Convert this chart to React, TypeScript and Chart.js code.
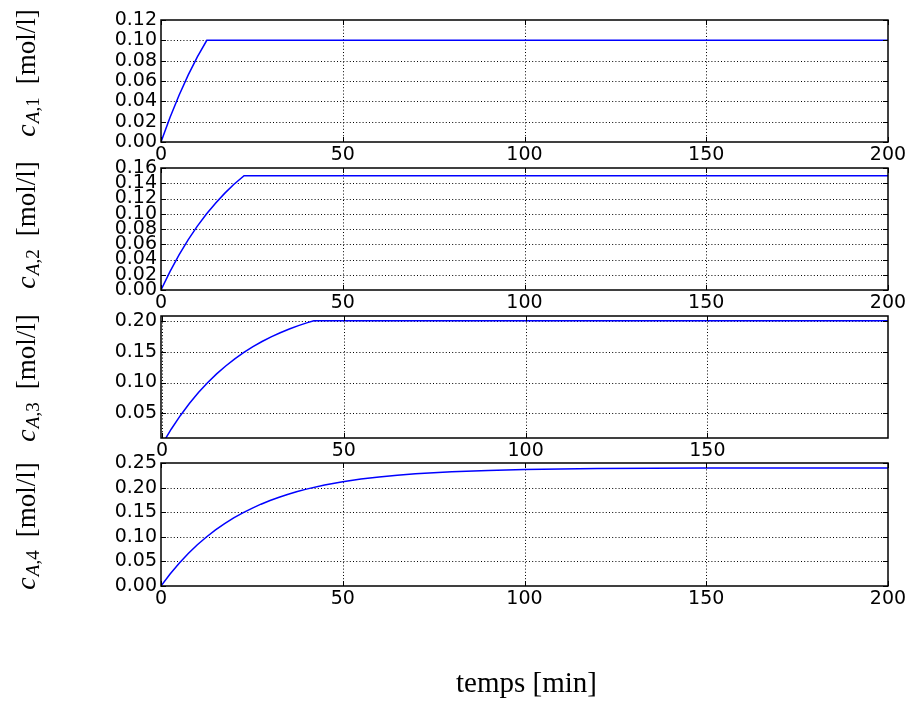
import React, { useEffect, useRef } from 'react';
import { Chart, registerables } from 'chart.js';

Chart.register(...registerables);

// ---------------- data ----------------
const X_TICKS = [0, 50, 100, 150, 200];

const T1 = [0, 2.5, 5, 7.5, 10, 12.6, 200];
const C1 = [0, 0.0244, 0.0463, 0.066, 0.0838, 0.10, 0.10];

const T2 = [0, 2.5, 5, 7.5, 10, 12.5, 15, 17.5, 20, 22.85, 200];
const C2 = [0, 0.0244, 0.0463, 0.066, 0.0838, 0.0996, 0.1139, 0.1267, 0.1383, 0.15, 0.15];

const T3 = [0, 2.5, 5, 7.5, 10, 12.5, 15, 17.5, 20, 22.5, 25, 27.5, 30, 32.5, 35, 37.5, 40, 41.75, 200];
const C3 = [0, 0.0244, 0.0463, 0.066, 0.0838, 0.0996, 0.1139, 0.1267, 0.1383, 0.1486, 0.1579, 0.1663, 0.1738, 0.1805, 0.1866, 0.192, 0.1969, 0.2, 0.2];

const T4 = [0, 2.5, 5, 7.5, 10, 12.5, 15, 17.5, 20, 22.5, 25, 27.5, 30, 32.5, 35, 37.5, 40, 45, 50, 55, 60, 65, 70, 75, 80, 90, 100, 120, 150, 200];
const C4 = [0, 0.0244, 0.0463, 0.066, 0.0838, 0.0996, 0.1139, 0.1267, 0.1383, 0.1486, 0.1579, 0.1663, 0.1738, 0.1805, 0.1866, 0.192, 0.1969, 0.2052, 0.2119, 0.2173, 0.2217, 0.2253, 0.2281, 0.2304, 0.2323, 0.235, 0.2367, 0.2386, 0.2396, 0.24];

const Y_TICKS_1 = [0, 0.02, 0.04, 0.06, 0.08, 0.10, 0.12];
const Y_TICKS_2 = [0, 0.02, 0.04, 0.06, 0.08, 0.10, 0.12, 0.14, 0.16];
const Y_TICKS_3 = [0.05, 0.10, 0.15, 0.20];
const Y_TICKS_4 = [0, 0.05, 0.10, 0.15, 0.20, 0.25];

const Y_SUBS = ['1', '2', '3', '4'];
const Y_UNIT = '[mol/l]';
const X_LABEL = 'temps [min]';

// ---------------- layout ----------------
const W = 911;
const H = 704;
const PLOT_LEFT = 161;
const PLOT_RIGHT = 888;

interface Panel {
  t: number[];
  c: number[];
  yTicks: number[];
  yMin: number;
  yMax: number;
  xMin: number;
  xMax: number;
  top: number;
  bottom: number;
  sub: string;
  labelCy: number;
  xLabel: boolean;
}

const PANELS: Panel[] = [
  { t: T1, c: C1, yTicks: Y_TICKS_1, yMin: 0, yMax: 0.12, xMin: 0, xMax: 200, top: 20, bottom: 142, sub: Y_SUBS[0], labelCy: 73, xLabel: false },
  { t: T2, c: C2, yTicks: Y_TICKS_2, yMin: 0, yMax: 0.16, xMin: 0, xMax: 200, top: 168, bottom: 290, sub: Y_SUBS[1], labelCy: 225, xLabel: false },
  { t: T3, c: C3, yTicks: Y_TICKS_3, yMin: 0.0102, yMax: 0.2076, xMin: -0.3, xMax: 199.7, top: 316, bottom: 438, sub: Y_SUBS[2], labelCy: 378, xLabel: false },
  { t: T4, c: C4, yTicks: Y_TICKS_4, yMin: 0, yMax: 0.25, xMin: 0, xMax: 200, top: 463, bottom: 586, sub: Y_SUBS[3], labelCy: 526, xLabel: true },
];

const SERIF = '"Liberation Serif", "DejaVu Serif", serif';

function drawYLabel(ctx: CanvasRenderingContext2D, sub: string, cy: number) {
  const fMain = `italic 28px ${SERIF}`;
  const fSubIt = `italic 19px ${SERIF}`;
  const fSubRm = `19px ${SERIF}`;
  const fRm = `27px ${SERIF}`;
  ctx.save();
  ctx.fillStyle = '#000';
  ctx.textBaseline = 'alphabetic';
  ctx.textAlign = 'left';
  ctx.font = fMain;
  const wc = ctx.measureText('c').width;
  ctx.font = fSubIt;
  const wA = ctx.measureText('A').width;
  ctx.font = fSubRm;
  const wRest = ctx.measureText(',' + sub).width;
  ctx.font = fRm;
  const wUnit = ctx.measureText(Y_UNIT).width;
  const gap = 13;
  const total = wc + 1 + wA + wRest + gap + wUnit;
  ctx.translate(35, cy);
  ctx.rotate(-Math.PI / 2);
  let x = -total / 2;
  ctx.font = fMain;
  ctx.fillText('c', x, 0);
  x += wc + 1;
  ctx.font = fSubIt;
  ctx.fillText('A', x, 4);
  x += wA;
  ctx.font = fSubRm;
  ctx.fillText(',' + sub, x, 4);
  x += wRest + gap;
  ctx.font = fRm;
  ctx.fillText(Y_UNIT, x, 0);
  ctx.restore();
}

const mplPlugin = {
  id: 'mpl',
  beforeDatasetsDraw(chart: any) {
    const { ctx, chartArea: a, scales } = chart;
    ctx.save();
    ctx.strokeStyle = '#000';
    ctx.lineWidth = 1;
    ctx.setLineDash([1, 2.2]);
    for (const tk of scales.x.ticks) {
      const px = Math.round(scales.x.getPixelForValue(tk.value)) + 0.5;
      if (px < a.left + 1 || px > a.right - 1) continue;
      ctx.beginPath();
      ctx.moveTo(px, a.top);
      ctx.lineTo(px, a.bottom);
      ctx.stroke();
    }
    for (const tk of scales.y.ticks) {
      const py = Math.round(scales.y.getPixelForValue(tk.value)) + 0.5;
      if (py < a.top + 1 || py > a.bottom - 1) continue;
      ctx.beginPath();
      ctx.moveTo(a.left, py);
      ctx.lineTo(a.right, py);
      ctx.stroke();
    }
    ctx.restore();
  },
  afterDatasetsDraw(chart: any) {
    const { ctx, chartArea: a, scales } = chart;
    ctx.save();
    ctx.strokeStyle = '#000';
    ctx.setLineDash([]);
    ctx.lineWidth = 1.5;
    ctx.strokeRect(a.left, a.top, a.right - a.left, a.bottom - a.top);
    ctx.lineWidth = 1;
    const L = 5;
    for (const tk of scales.x.ticks) {
      const px = Math.round(scales.x.getPixelForValue(tk.value)) + 0.5;
      ctx.beginPath();
      ctx.moveTo(px, a.bottom);
      ctx.lineTo(px, a.bottom - L);
      ctx.moveTo(px, a.top);
      ctx.lineTo(px, a.top + L);
      ctx.stroke();
    }
    for (const tk of scales.y.ticks) {
      const py = Math.round(scales.y.getPixelForValue(tk.value)) + 0.5;
      ctx.beginPath();
      ctx.moveTo(a.left, py);
      ctx.lineTo(a.left + L, py);
      ctx.moveTo(a.right, py);
      ctx.lineTo(a.right - L, py);
      ctx.stroke();
    }
    ctx.restore();
  },
  afterDraw(chart: any, _args: any, opts: any) {
    const ctx = chart.ctx as CanvasRenderingContext2D;
    drawYLabel(ctx, opts.sub, opts.labelCy);
    if (opts.xLabel) {
      ctx.save();
      ctx.fillStyle = '#000';
      ctx.font = `29px ${SERIF}`;
      ctx.textAlign = 'center';
      ctx.textBaseline = 'alphabetic';
      ctx.fillText(X_LABEL, (PLOT_LEFT + PLOT_RIGHT) / 2 + 2, 692);
      ctx.restore();
    }
  },
};

function PanelChart({ p }: { p: Panel }) {
  const ref = useRef<HTMLCanvasElement | null>(null);
  useEffect(() => {
    if (!ref.current) return;
    const tickFont = { family: '"DejaVu Sans", sans-serif', size: 19 };
    const chart = new Chart(ref.current, {
      type: 'line',
      data: {
        datasets: [
          {
            data: p.t.map((t, i) => ({ x: t, y: p.c[i] })),
            borderColor: '#0000ff',
            borderWidth: 1.5,
            pointRadius: 0,
            tension: 0,
            fill: false,
          },
        ],
      },
      options: {
        animation: false,
        responsive: false,
        events: [],
        layout: {
          padding: { left: 0, top: p.top, right: W - PLOT_RIGHT, bottom: H - p.bottom - 26 },
        },
        plugins: {
          legend: { display: false },
          tooltip: { enabled: false },
          mpl: { sub: p.sub, labelCy: p.labelCy, xLabel: p.xLabel },
        } as any,
        scales: {
          x: {
            type: 'linear',
            min: p.xMin,
            max: p.xMax,
            grid: { display: false, drawTicks: false },
            border: { display: false },
            afterBuildTicks: (s: any) => {
              s.ticks = X_TICKS.filter((v) => v >= p.xMin && v <= p.xMax).map((v) => ({ value: v }));
            },
            afterFit: (s: any) => {
              s.height = 26;
            },
            ticks: {
              color: '#000',
              font: tickFont,
              padding: 2,
              autoSkip: false,
              minRotation: 0,
              maxRotation: 0,
              callback: (v: any) => String(v),
            },
          },
          y: {
            type: 'linear',
            min: p.yMin,
            max: p.yMax,
            grid: { display: false, drawTicks: false },
            border: { display: false },
            afterBuildTicks: (s: any) => {
              s.ticks = p.yTicks.map((v) => ({ value: v }));
            },
            afterFit: (s: any) => {
              s.width = PLOT_LEFT;
            },
            ticks: {
              color: '#000',
              font: tickFont,
              padding: 4,
              autoSkip: false,
              callback: (v: any) => Number(v).toFixed(2),
            },
          },
        },
      },
      plugins: [mplPlugin],
    });
    return () => chart.destroy();
  }, [p]);
  return (
    <canvas
      ref={ref}
      width={W}
      height={H}
      style={{ position: 'absolute', left: 0, top: 0, width: W, height: H }}
    />
  );
}

export default function App() {
  return (
    <div style={{ position: 'absolute', left: 0, top: 0, width: W, height: H, background: '#fff' }}>
      {PANELS.map((p, i) => (
        <PanelChart key={i} p={p} />
      ))}
    </div>
  );
}
